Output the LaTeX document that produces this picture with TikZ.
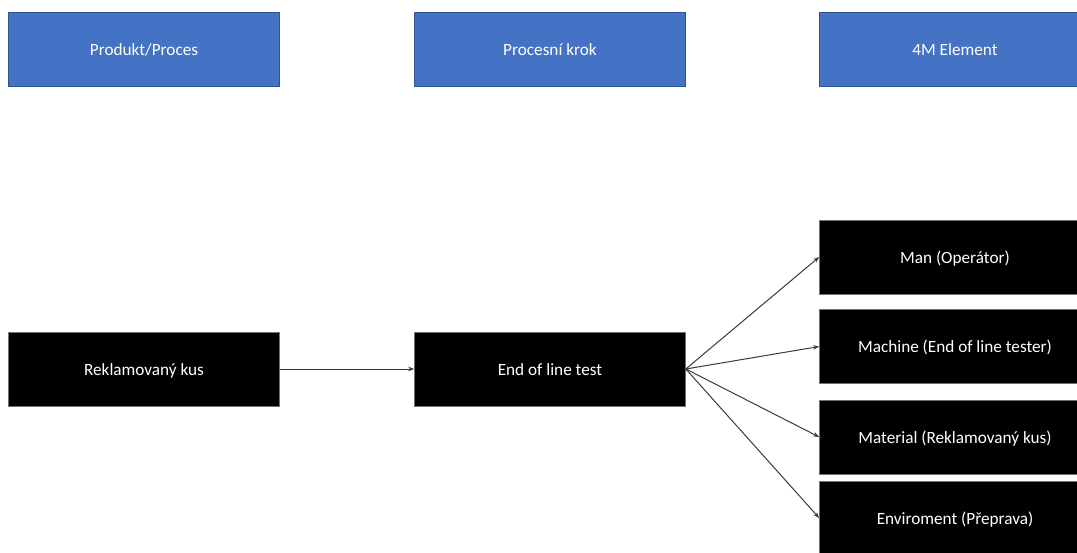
\documentclass[tikz,border=0pt]{standalone}
\usepackage{fontspec}
\setmainfont{Carlito}
\usetikzlibrary{arrows.meta}
\definecolor{hdrblue}{HTML}{4472C4}
\definecolor{hdredge}{HTML}{2F528F}
\definecolor{linkgray}{HTML}{3A3A3A}
\begin{document}
\begin{tikzpicture}[x=1pt,y=-1pt,
  box/.style={minimum width=271pt,minimum height=74pt,inner sep=0pt,
    font=\fontsize{17.2}{20}\selectfont,text=white,line width=0.6pt,
    text height=14pt,text depth=2pt},
  header/.style={box,fill=hdrblue,draw=hdredge},
  item/.style={box,fill=black,draw=black!55},
  link/.style={draw=linkgray,line width=1pt,
    -{Stealth[length=6pt,width=4.5pt]}}]
\useasboundingbox (0,0) rectangle (1077,552);
\clip (0,0) rectangle (1077,552);
% column headers
\node[header] (h1) at (144,49.5) {Produkt/Proces};
\node[header] (h2) at (550,49.5) {Procesní krok};
\node[header] (h3) at (955,49.5) {4M Element};
% process chain
\node[item] (part) at (144,369) {Reklamovaný kus};
\node[item] (eol)  at (550,369) {End of line test};
% 4M elements
\node[item] (man)  at (955,257)   {Man (Operátor)};
\node[item] (mach) at (955,346.5) {Machine (End of line tester)};
\node[item] (mat)  at (955,437)   {Material (Reklamovaný kus)};
\node[item] (env)  at (955,518)   {Enviroment (Přeprava)};
% connectors
\draw[link] (part.east) -- (eol.west);
\draw[link] (eol.east) -- (man.west);
\draw[link] (eol.east) -- (mach.west);
\draw[link] (eol.east) -- (mat.west);
\draw[link] (eol.east) -- (env.west);
\end{tikzpicture}
\end{document}
